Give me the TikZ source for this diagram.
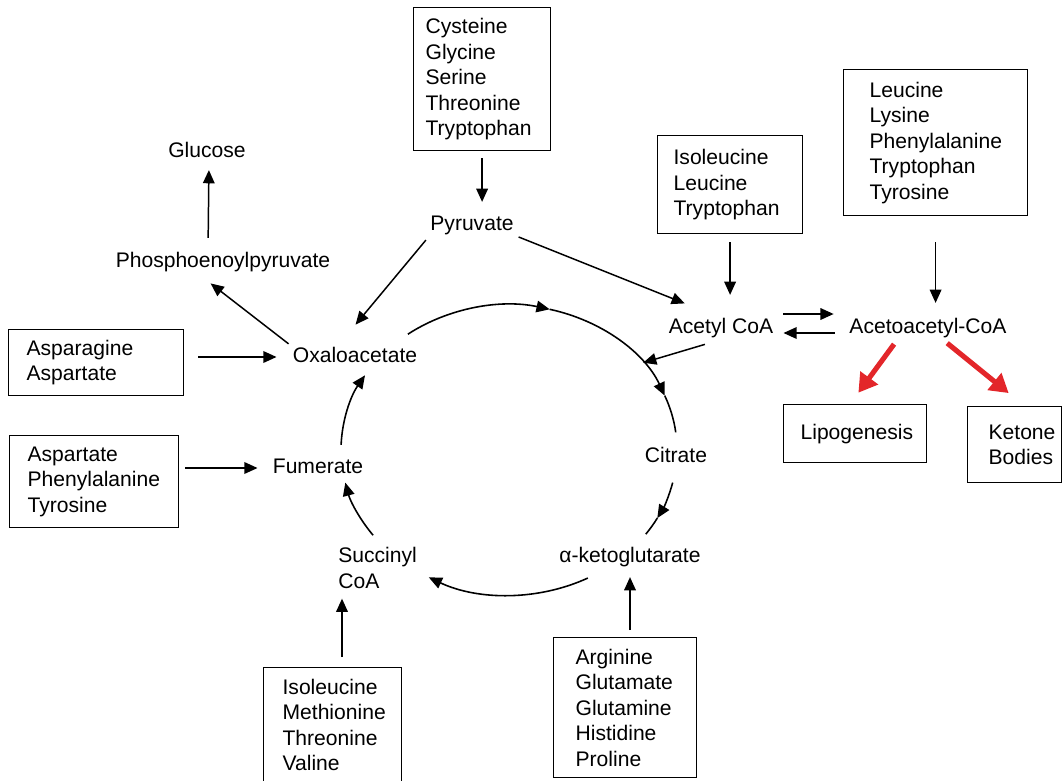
\documentclass[tikz,border=0pt]{standalone}
\usepackage{fontspec}
\setmainfont{Liberation Sans}
\usetikzlibrary{arrows.meta}
\definecolor{pathred}{HTML}{E3262A}
\begin{document}
\begin{tikzpicture}[x=0.02cm, y=-0.02cm,
  font=\fontsize{12}{14.5}\selectfont,
  lab/.style={inner sep=0pt, text height=8.6pt, text depth=2.5pt},
  aabox/.style={draw, line width=0.7pt, inner sep=0pt, anchor=north west, align=left,
    execute at begin node={\leftskip=#1\relax\hyphenpenalty=10000\relax}},
  tip/.style={-{Triangle[length=7.5pt,width=6.6pt]}},
  arr/.style={line width=0.85pt, tip},
  cyc/.style={line width=0.9pt},
  redarr/.style={line width=2.9pt, pathred, -{Triangle[length=10.5pt,width=12pt]}},
]
\useasboundingbox (0,0) rectangle (1063,781);
\clip (0,0) rectangle (1063,781);

% amino-acid source boxes
\node[aabox=0.24cm, text width=2.74cm, minimum height=2.86cm] (b1) at (413,7)
  {Cysteine\\Glycine\\Serine\\Threonine\\Tryptophan};
\node[aabox=0.32cm, text width=2.9cm, minimum height=1.96cm] (b2) at (657,135)
  {Isoleucine\\Leucine\\Tryptophan};
\node[aabox=0.52cm, text width=3.68cm, minimum height=2.92cm] (b3) at (843,69)
  {Leucine\\Lysine\\Phenylalanine\\Tryptophan\\Tyrosine};
\node[aabox=0.34cm, text width=2.86cm, minimum height=1.16cm] (b4) at (783,404)
  {Lipogenesis};
\node[aabox=0.42cm, text width=1.88cm, minimum height=1.52cm] (b5) at (967,406)
  {Ketone\\Bodies};
\node[aabox=0.36cm, text width=3.5cm, minimum height=1.32cm] (b6) at (8,329)
  {Asparagine\\Aspartate};
\node[aabox=0.36cm, text width=3.38cm, minimum height=1.84cm] (b7) at (9,435)
  {Aspartate\\Phenylalanine\\Tyrosine};
\node[aabox=0.38cm, text width=2.76cm, minimum height=2.3cm] (b8) at (263,667)
  {Isoleucine\\Methionine\\Threonine\\Valine};
\node[aabox=0.44cm, text width=2.86cm, minimum height=2.8cm] (b9) at (553,637)
  {Arginine\\Glutamate\\Glutamine\\Histidine\\Proline};

% metabolites
\node[lab] (glu)  at (207,152) {Glucose};
\node[lab] (pep)  at (223,262) {Phosphoenoylpyruvate};
\node[lab] (pyr)  at (472,225) {Pyruvate};
\node[lab] (oxa)  at (355,357) {Oxaloacetate};
\node[lab] (acoa) at (721,328) {Acetyl CoA};
\node[lab] (aaco) at (928,328) {Acetoacetyl-CoA};
\node[lab] (cit)  at (676,457) {Citrate};
\node[lab] (akg)  at (630,557) {α-ketoglutarate};
\node[lab] (fum)  at (318,468) {Fumerate};
\node[inner sep=0pt, align=left, anchor=north west] (suc) at (338,547) {Succinyl\\CoA};

% citric acid cycle
\begin{scope}[shift={(509,450)}]
  \draw[cyc, tip] (233:168 and 145) arc[start angle=233, end angle=284, x radius=168, y radius=145];
  \draw[cyc, tip] (284:168 and 145) arc[start angle=284, end angle=338, x radius=168, y radius=145];
  \draw[cyc] (338:168 and 145) arc[start angle=338, end angle=353, x radius=168, y radius=145];
  \draw[cyc, tip] (13:168 and 145) arc[start angle=13, end angle=28, x radius=168, y radius=145];
  \draw[cyc] (28:168 and 145) arc[start angle=28, end angle=35.5, x radius=168, y radius=145];
  \draw[cyc, tip] (62:168 and 145) arc[start angle=62, end angle=118.5, x radius=168, y radius=145];
  \draw[cyc, tip] (144:168 and 145) arc[start angle=144, end angle=167, x radius=168, y radius=145];
  \draw[cyc, tip] (182:168 and 145) arc[start angle=182, end angle=211, x radius=168, y radius=145];
  \coordinate (cycin) at (323:168 and 145);
\end{scope}

% feeding reactions
\draw[arr, shorten <=0.14cm, shorten >=0.26cm] (b1.south) -- (b1.south |- pyr.north);
\draw[arr, shorten <=0.28cm, shorten >=0.16cm] ([xshift=-0.3cm]pep.north) -- ([xshift=0.04cm]glu.south);
\draw[arr, shorten <=0.1cm, shorten >=0.37cm] (oxa.north west) -- ([xshift=-0.54cm]pep.south);
\draw[arr, shorten <=0.13cm, shorten >=0.58cm] (pyr.south west) -- ([xshift=-0.36cm]oxa.north);
\draw[arr, shorten <=0.1cm, shorten >=0.78cm] (pyr.south east) -- (acoa.north);
\draw[arr, shorten <=0.16cm, shorten >=0.46cm] (b2.south) -- (b2.south |- acoa.north);
\draw[arr, shorten <=0.44cm] ([xshift=0.1cm]acoa.south) -- (cycin);
\draw[arr, shorten <=0.2cm, shorten >=0.31cm] ([yshift=0.28cm]acoa.east) -- ([yshift=0.28cm]aaco.west);
\draw[arr, shorten <=0.29cm, shorten >=0.2cm] ([yshift=-0.1cm]aaco.west) -- ([yshift=-0.1cm]acoa.east);
\draw[arr, shorten <=0.52cm, shorten >=0.3cm] (b3.south) -- (b3.south |- aaco.north);
\draw[redarr, shorten <=0.15cm, shorten >=0.28cm] ([xshift=-0.59cm]aaco.south) -- ([xshift=-0.1cm]b4.north);
\draw[redarr, shorten <=0.16cm, shorten >=0.41cm] ([xshift=0.26cm]aaco.south) -- ([xshift=0.2cm]b5.north);
\draw[arr, shorten <=0.28cm, shorten >=0.32cm] (oxa.west -| b6.east) -- (oxa.west);
\draw[arr, shorten <=0.12cm, shorten >=0.3cm] (fum.west -| b7.east) -- (fum.west);
\draw[arr, shorten <=0.2cm, shorten >=0.2cm] ([xshift=0.08cm]suc.south west |- b8.north) -- ([xshift=0.08cm]suc.south west);
\draw[arr, shorten <=0.14cm, shorten >=0.2cm] (akg.south |- b9.north) -- (akg.south);
\end{tikzpicture}
\end{document}
